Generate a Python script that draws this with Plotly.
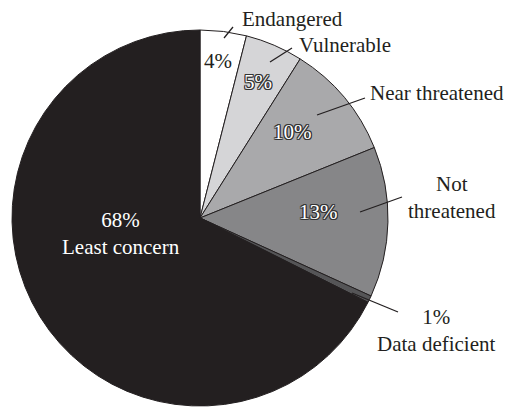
import plotly.graph_objects as go

categories = ["Endangered", "Vulnerable", "Near threatened", "Not threatened", "Data deficient", "Least concern"]
values = [4, 5, 10, 13, 0.6, 68]
pct_labels = ["4%", "5%", "10%", "13%", "1%", "68%"]
colors = ["#ffffff", "#d5d5d7", "#a9a9ab", "#868688", "#555557", "#231f20"]

W, H = 507, 408
FONT = "Liberation Serif, Times New Roman, serif"
DARK = "#231f20"
OUTLINE = ("-1px -1px 0 #333, 1px -1px 0 #333, -1px 1px 0 #333, 1px 1px 0 #333, "
           "0 -1px 0 #333, 0 1px 0 #333, -1px 0 0 #333, 1px 0 0 #333")


def px(x, y):
    return x / W, 1 - y / H


fig = go.Figure(go.Pie(
    labels=categories,
    values=values,
    sort=False,
    direction="clockwise",
    rotation=0,
    textinfo="none",
    hoverinfo="label+percent",
    marker=dict(colors=colors, line=dict(color=DARK, width=1)),
    domain=dict(x=[12 / W, 388 / W], y=[2 / H, 1 - 30 / H]),
    showlegend=False,
))

annotations = []


def add_text(text, x, y, color=DARK, shadow="none", size=21):
    ax, ay = px(x, y)
    annotations.append(dict(
        text=text, x=ax, y=ay, xref="paper", yref="paper",
        showarrow=False, xanchor="center", yanchor="middle",
        font=dict(family=FONT, size=size, color=color, shadow=shadow),
    ))


# inside percentage labels
add_text(pct_labels[0], 218, 61)
add_text(pct_labels[1], 258, 82, color="#ffffff", shadow=OUTLINE)
add_text(pct_labels[2], 292, 132, color="#ffffff", shadow=OUTLINE)
add_text(pct_labels[3], 318, 212, color="#ffffff", shadow=OUTLINE)
add_text(pct_labels[5] + "<br>" + categories[5], 121, 233, color="#ffffff")

# outside labels
add_text(categories[0], 292, 19)
add_text(categories[1], 345, 45)
add_text(categories[2], 437, 93)
add_text("Not<br>threatened", 452, 197)
add_text(pct_labels[4] + "<br>" + categories[4], 436, 330)

# leader lines
leaders = [
    ((224, 38), (233, 27)),
    ((270, 62), (292, 48)),
    ((317, 115), (365, 98)),
    ((360, 212), (402, 197)),
    ((352, 293), (398, 312)),
]
shapes = []
for (x0, y0), (x1, y1) in leaders:
    a0, b0 = px(x0, y0)
    a1, b1 = px(x1, y1)
    shapes.append(dict(type="line", xref="paper", yref="paper",
                       x0=a0, y0=b0, x1=a1, y1=b1,
                       line=dict(color=DARK, width=1.3)))

fig.update_layout(
    width=W, height=H,
    margin=dict(l=0, r=0, t=0, b=0),
    paper_bgcolor="#ffffff",
    plot_bgcolor="#ffffff",
    annotations=annotations,
    shapes=shapes,
)

fig.write_html(
    "out.html",
    config={"displayModeBar": False},
    post_script="document.body.style.margin='0';document.body.style.overflow='hidden';",
)
